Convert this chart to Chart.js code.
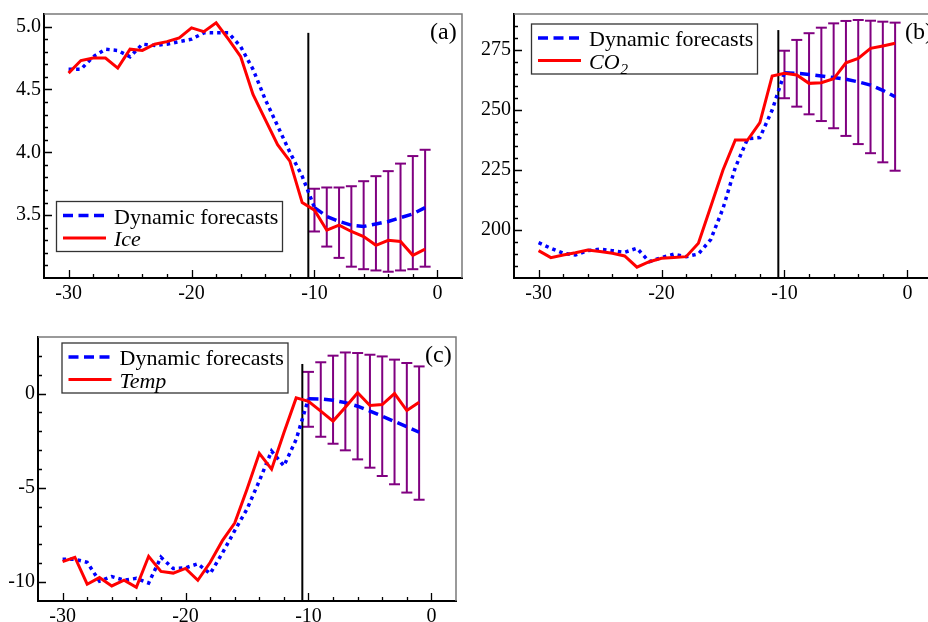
<!DOCTYPE html>
<html>
<head>
<meta charset="utf-8">
<script src="https://cdn.jsdelivr.net/npm/chart.js@4.4.0/dist/chart.umd.min.js"></script>
<style>
  html, body { margin: 0; padding: 0; background: #fff; width: 928px; height: 622px; overflow: hidden; }
  .panel { position: absolute; width: 470px; height: 310px; }
</style>
</head>
<body>
<div class="panel" style="left:0;top:0"><canvas id="chartA" width="470" height="310"></canvas></div>
<div class="panel" style="left:470px;top:0"><canvas id="chartB" width="470" height="310"></canvas></div>
<div class="panel" style="left:-6px;top:323px"><canvas id="chartC" width="470" height="310"></canvas></div>
<script>
// time axis (observed, fitted and forecast parts)
const obsYears = [-30, -29, -28, -27, -26, -25, -24, -23, -22, -21, -20, -19, -18, -17, -16,
  -15, -14, -13, -12, -11, -10, -9, -8, -7, -6, -5, -4, -3, -2, -1];
const fitYears = [-30, -29, -28, -27, -26, -25, -24, -23, -22, -21, -20, -19, -18, -17, -16,
  -15, -14, -13, -12, -11, -10];
const fcYears = [-10, -9, -8, -7, -6, -5, -4, -3, -2, -1];
const xTicks = [-30, -20, -10, 0];
const markerX = -10.5;

// (a) Ice
const iceObs = [4.63, 4.73, 4.75, 4.75, 4.67, 4.82, 4.81, 4.86, 4.88, 4.91, 4.99, 4.96, 5.03, 4.90, 4.76,
  4.46, 4.26, 4.06, 3.93, 3.60, 3.54, 3.38, 3.42, 3.37, 3.33, 3.26, 3.30, 3.29, 3.18, 3.23];
const iceFit = [4.66, 4.66, 4.76, 4.82, 4.81, 4.76, 4.86, 4.85, 4.86, 4.88, 4.90, 4.95, 4.95, 4.95, 4.84,
  4.66, 4.42, 4.21, 4.00, 3.81, 3.56];
const iceFc = [3.56, 3.49, 3.45, 3.42, 3.41, 3.43, 3.45, 3.48, 3.51, 3.56];
const iceHi = [3.71, 3.72, 3.72, 3.73, 3.77, 3.81, 3.85, 3.91, 3.97, 4.02];
const iceLo = [3.37, 3.25, 3.16, 3.09, 3.07, 3.06, 3.05, 3.06, 3.07, 3.09];
const iceTicks = [3.5, 4.0, 4.5, 5.0];

// (b) CO2
const co2Obs = [191.4, 188.5, 189.6, 190.5, 191.7, 191.0, 190.3, 189.2, 184.5, 186.8, 188.2, 188.5, 188.9, 194.5, 209.7,
  225.0, 237.5, 237.5, 244.7, 264.2, 265.3, 264.6, 261.1, 261.4, 263.0, 269.7, 271.5, 275.7, 276.7, 277.8];
const co2Fit = [194.7, 192.4, 190.3, 189.6, 191.4, 192.0, 191.4, 190.7, 192.4, 186.8, 188.5, 189.9, 188.9, 190.0, 196.0,
  209.0, 226.0, 238.0, 238.5, 250.0, 265.5];
const co2Fc = [265.5, 265.3, 264.8, 264.2, 263.5, 262.8, 261.7, 260.4, 258.2, 255.5];
const co2Hi = [274.7, 279.2, 282.0, 284.3, 286.1, 287.1, 287.5, 287.2, 286.8, 286.4];
const co2Lo = [254.9, 251.4, 248.2, 245.4, 242.4, 239.2, 235.8, 232.0, 228.2, 224.7];
const co2Ticks = [200, 225, 250, 275];

// (c) Temp
const tempObs = [-8.91, -8.68, -10.11, -9.76, -10.2, -9.9, -10.27, -8.63, -9.43, -9.52, -9.27, -9.9, -8.96, -7.80, -6.87,
  -5.07, -3.17, -4.01, -2.08, -0.23, -0.41, -0.93, -1.46, -0.72, 0.04, -0.63, -0.58, 0.0, -0.90, -0.46];
const tempFit = [-8.79, -8.79, -8.95, -9.95, -9.7, -9.9, -9.8, -10.05, -8.68, -9.28, -9.24, -9.03, -9.55, -8.46, -7.27,
  -6.13, -4.63, -3.05, -3.84, -2.43, -0.27];
const tempFc = [-0.27, -0.29, -0.35, -0.48, -0.67, -0.93, -1.20, -1.48, -1.76, -2.05];
const tempHi = [1.15, 1.66, 2.01, 2.18, 2.15, 2.06, 1.97, 1.80, 1.62, 1.44];
const tempLo = [-1.76, -2.29, -2.66, -3.01, -3.49, -3.93, -4.37, -4.81, -5.25, -5.63];
const tempTicks = [-10, -5, 0];

const SERIF = '"Liberation Serif", "Times New Roman", serif';

function toXY(xs, ys) {
  return xs.map((x, i) => ({ x: x, y: ys[i] }));
}

// error bars as one broken line: lo, hi, gap, lo, hi, gap ...
function errorBars(xs, lo, hi) {
  let out = [];
  xs.forEach((x, i) => {
    out.push({ x: x, y: lo[i] }, { x: x, y: hi[i] }, { x: x, y: null });
  });
  return out;
}

// inner tick marks plus the grey top/right frame
const frame = {
  id: "frame",
  afterDatasetsDraw(chart, args, o) {
    const ctx = chart.ctx, a = chart.chartArea;
    const sx = chart.scales.x, sy = chart.scales.y;
    ctx.save();
    ctx.strokeStyle = "#7a7a7a";
    ctx.lineWidth = 1.5;
    ctx.beginPath();
    ctx.moveTo(a.left, a.top);
    ctx.lineTo(a.right, a.top);
    ctx.lineTo(a.right, a.bottom);
    ctx.stroke();

    ctx.strokeStyle = "#000";
    ctx.lineWidth = 1.3;
    ctx.beginPath();
    for (let v = o.xFrom; v <= o.xTo + 1e-9; v += o.xMinor) {
      const px = Math.round(sx.getPixelForValue(v)) + 0.5;
      const len = o.xMajor.includes(Math.round(v)) ? 8 : 4;
      ctx.moveTo(px, a.bottom);
      ctx.lineTo(px, a.bottom - len);
    }
    for (let k = 0; o.yFrom + k * o.yMinor <= o.yTo + 1e-9; k++) {
      const v = o.yFrom + k * o.yMinor;
      const py = Math.round(sy.getPixelForValue(v)) + 0.5;
      const len = o.yMajor.some(t => Math.abs(t - v) < 1e-6) ? 8 : 4;
      ctx.moveTo(a.left, py);
      ctx.lineTo(a.left + len, py);
    }
    ctx.stroke();
    ctx.restore();
  }
};

// boxed legend inside the plot and the panel letter
const legendBox = {
  id: "legendBox",
  afterDraw(chart, args, o) {
    const ctx = chart.ctx, a = chart.chartArea;
    const x0 = a.left + o.dx, y0 = a.top + o.dy;
    ctx.save();
    ctx.fillStyle = "#fff";
    ctx.fillRect(x0, y0, 226, 50);
    ctx.strokeStyle = "#333";
    ctx.lineWidth = 1.3;
    ctx.strokeRect(x0 + 0.5, y0 + 0.5, 226, 50);
    o.items.forEach((it, i) => {
      const ds = chart.data.datasets[it.ds];
      const cy = y0 + 14.5 + i * 22.5;
      ctx.strokeStyle = ds.borderColor;
      ctx.lineWidth = ds.borderWidth;
      ctx.setLineDash(ds.borderDash || []);
      ctx.beginPath();
      ctx.moveTo(x0 + 7, cy);
      ctx.lineTo(x0 + 50, cy);
      ctx.stroke();
      ctx.setLineDash([]);
      ctx.fillStyle = "#000";
      ctx.textBaseline = "alphabetic";
      const parts = it.text.split("_");
      ctx.font = (it.italic ? "italic " : "") + "22px " + SERIF;
      ctx.fillText(parts[0], x0 + 58, cy + 8);
      if (parts[1]) {
        const w = ctx.measureText(parts[0]).width;
        ctx.font = (it.italic ? "italic " : "") + "15px " + SERIF;
        ctx.fillText(parts[1], x0 + 58 + w + 1, cy + 13);
      }
    });
    ctx.font = "24px " + SERIF;
    ctx.fillStyle = "#000";
    ctx.fillText(o.tag, a.left + o.tagX, a.top + 25);
    ctx.restore();
  }
};

function makePanel(id, p) {
  const ctx = document.getElementById(id).getContext("2d");
  new Chart(ctx, {
    type: "line",
    data: {
      datasets: [
        { label: p.name, data: toXY(obsYears, p.obs), borderColor: "#ff0000", borderWidth: 3, pointRadius: 0 },
        { label: "Dynamic forecasts", data: toXY(fcYears, p.fc), borderColor: "#0000ff", borderWidth: 3.5,
          borderDash: [10, 5.5], pointRadius: 0 },
        { label: "fit", data: toXY(fitYears, p.fit), borderColor: "#0000ff", borderWidth: 3.5,
          borderDash: [3.5, 4], pointRadius: 0 },
        { label: "now", data: [{ x: markerX, y: p.yMin }, { x: markerX, y: p.markTop }],
          borderColor: "#000", borderWidth: 2, pointRadius: 0 },
        { label: "spread", data: errorBars(fcYears, p.lo, p.hi), borderColor: "#800080", borderWidth: 2,
          pointStyle: "line", pointRadius: 5.5, pointBorderColor: "#800080", pointBorderWidth: 2,
          spanGaps: false }
      ]
    },
    options: {
      responsive: false,
      animation: false,
      events: [],
      layout: { padding: { left: 0, top: 14, right: 8, bottom: 0 } },
      plugins: {
        legend: { display: false },
        tooltip: { enabled: false },
        frame: { xFrom: -30, xTo: 0, xMinor: 2, xMajor: xTicks,
          yFrom: p.minorFrom, yTo: p.minorTo, yMinor: p.minorStep, yMajor: p.ticks },
        legendBox: { dx: p.legDx, dy: p.legDy, tag: p.tag, tagX: p.tagX,
          items: [{ ds: 1, text: "Dynamic forecasts" }, { ds: 0, text: p.name, italic: true }] }
      },
      scales: {
        x: {
          type: "linear",
          min: -32,
          max: 2,
          afterBuildTicks: s => { s.ticks = xTicks.map(v => ({ value: v })); },
          afterFit: s => { s.height = 32; s.paddingLeft = 0; s.paddingRight = 0; },
          grid: { display: false, drawTicks: false },
          border: { color: "#000", width: 2 },
          ticks: { color: "#000", font: { family: SERIF, size: 20 }, padding: 4,
            maxRotation: 0, autoSkip: false, callback: v => String(v) }
        },
        y: {
          type: "linear",
          min: p.yMin,
          max: p.yMax,
          afterBuildTicks: s => { s.ticks = p.ticks.map(v => ({ value: v })); },
          afterFit: s => { s.width = 44; s.paddingTop = 0; s.paddingBottom = 0; },
          grid: { display: false, drawTicks: false },
          border: { color: "#000", width: 2 },
          ticks: { color: "#000", font: { family: SERIF, size: 20 }, padding: 3,
            autoSkip: false, callback: p.fmt }
        }
      }
    },
    plugins: [frame, legendBox]
  });
}

makePanel("chartA", {
  name: "Ice", obs: iceObs, fit: iceFit, fc: iceFc, lo: iceLo, hi: iceHi, ticks: iceTicks,
  yMin: 3.0, yMax: 5.1, markTop: 4.95, minorFrom: 3.1, minorTo: 5.0, minorStep: 0.1,
  fmt: v => v.toFixed(1), legDx: 12, legDy: 187, tag: "(a)", tagX: 386
});
makePanel("chartB", {
  name: "CO_2", obs: co2Obs, fit: co2Fit, fc: co2Fc, lo: co2Lo, hi: co2Hi, ticks: co2Ticks,
  yMin: 180, yMax: 290, markTop: 283.3, minorFrom: 185, minorTo: 285, minorStep: 5,
  fmt: v => String(v), legDx: 17, legDy: 9.5, tag: "(b)", tagX: 391
});
makePanel("chartC", {
  name: "Temp", obs: tempObs, fit: tempFit, fc: tempFc, lo: tempLo, hi: tempHi, ticks: tempTicks,
  yMin: -11, yMax: 3, markTop: 1.57, minorFrom: -10, minorTo: 2, minorStep: 1,
  fmt: v => String(v), legDx: 23.5, legDy: 5.5, tag: "(c)", tagX: 387
});
</script>
</body>
</html>
